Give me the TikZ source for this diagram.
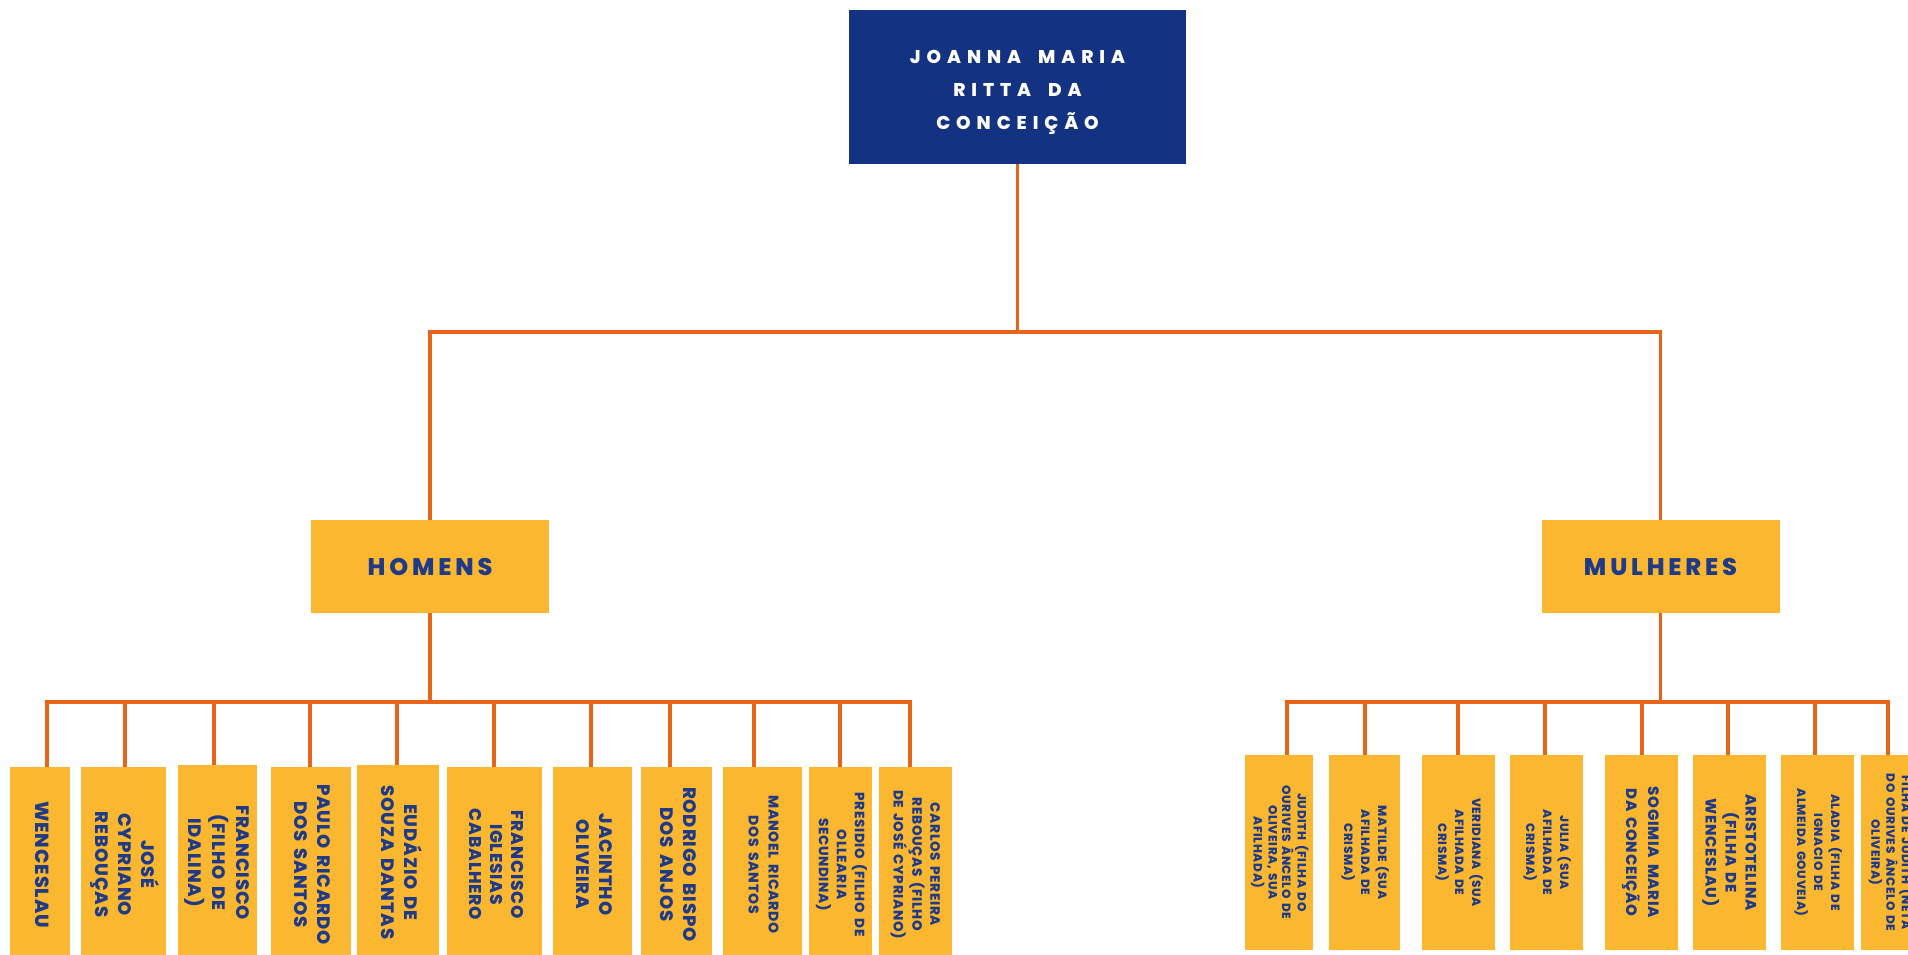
\documentclass[tikz,border=0pt]{standalone}
\usepackage{fontspec}
\usepackage{tikz}
\newfontfamily\titlefont[LetterSpace=32,WordSpace=1.8,BoldFont={Poppins ExtraBold}]{Poppins}
\newfontfamily\groupfont[LetterSpace=16,BoldFont={Poppins ExtraBold}]{Poppins}
\newfontfamily\leaffont[LetterSpace=5,WordSpace=1.6,BoldFont={Poppins ExtraBold}]{Poppins}
\definecolor{rootblue}{HTML}{133282}
\definecolor{boxgold}{HTML}{FCB730}
\definecolor{linkorange}{HTML}{E8641A}
\definecolor{textnavy}{HTML}{1F3A86}
% rotated multi-line label: size, skip, lines
\newcommand{\vtext}[3]{\rotatebox{-90}{\fontsize{#1}{#2}\selectfont\begin{tabular}{@{}c@{}}#3\end{tabular}}}

\begin{document}
\begin{tikzpicture}[x=1pt,y=-1pt,
  link/.style={draw=linkorange,line width=3.8pt},
  rootbox/.style={fill=rootblue,text=white,minimum width=337,minimum height=154,inner sep=0,align=center,font=\titlefont\bfseries\fontsize{18.5}{33}\selectfont},
  groupbox/.style={fill=boxgold,text=textnavy,minimum width=238,minimum height=93,inner sep=0,font=\groupfont\bfseries\fontsize{24}{28}\selectfont},
  leafbox/.style={fill=boxgold,text=textnavy,minimum height=195,inner sep=0,font=\leaffont\bfseries}]
  \useasboundingbox[fill=white] (0,0) rectangle (1908,955);

  \node[rootbox] (root) at (1017.5,87) {};
  \node[text=white,align=center,font=\titlefont\bfseries\fontsize{18.5}{33}\selectfont] (roottext) at (1017.5,92) {JOANNA MARIA\\RITTA DA\\CONCEIÇÃO};
  \node[groupbox] (homens) at (430,566.5) {HOMENS};
  \node[groupbox] (mulheres) at (1660.5,566.5) {MULHERES};
  \coordinate (tb) at (1017.5,332);

  % homens
  \node[leafbox,minimum width=60] (m1) at (40,864.5) {\vtext{19}{24}{WENCESLAU}};
  \node[leafbox,minimum width=85] (m2) at (123.5,864.5) {\vtext{18}{23}{JOSÉ\\CYPRIANO\\REBOUÇAS}};
  \node[leafbox,minimum width=79] (m3) at (217.5,862.5) {\vtext{18}{24}{FRANCISCO\\(FILHO DE\\IDALINA)}};
  \node[leafbox,minimum width=80] (m4) at (311,864.5) {\vtext{18}{23}{PAULO RICARDO\\DOS SANTOS}};
  \node[leafbox,minimum width=82] (m5) at (398,862.5) {\vtext{18}{23}{EUDÁZIO DE\\SOUZA DANTAS}};
  \node[leafbox,minimum width=95] (m6) at (494.5,864.5) {\vtext{17}{21}{FRANCISCO\\IGLESIAS\\CABALHERO}};
  \node[leafbox,minimum width=79] (m7) at (592.5,864.5) {\vtext{18}{23}{JACINTHO\\OLIVEIRA}};
  \node[leafbox,minimum width=71] (m8) at (676.5,864.5) {\vtext{18}{23}{RODRIGO BISPO\\DOS ANJOS}};
  \node[leafbox,minimum width=79] (m9) at (762.5,864.5) {\vtext{14}{20}{MANOEL RICARDO\\DOS SANTOS}};
  \node[leafbox,minimum width=63] (m10) at (840.5,864.5) {\vtext{13.5}{18}{PRESIDIO (FILHO DE\\OLLEARIA\\SECUNDINA)}};
  \node[leafbox,minimum width=73] (m11) at (915.5,864.5) {\vtext{13.5}{18}{CARLOS PEREIRA\\REBOUÇAS (FILHO\\DE JOSÉ CYPRIANO)}};

  % mulheres
  \node[leafbox,minimum width=68] (f1) at (1279,852.5) {\vtext{12}{13.5}{JUDITH (FILHA DO\\OURIVES ÂNCELO DE\\OLIVEIRA, SUA\\AFILHADA)}};
  \node[leafbox,minimum width=71] (f2) at (1364.5,852.5) {\vtext{12}{17}{MATILDE (SUA\\AFILHADA DE\\CRISMA)}};
  \node[leafbox,minimum width=73] (f3) at (1458.5,852.5) {\vtext{12}{17}{VERIDIANA (SUA\\AFILHADA DE\\CRISMA)}};
  \node[leafbox,minimum width=73] (f4) at (1546.5,852.5) {\vtext{12}{17}{JULIA (SUA\\AFILHADA DE\\CRISMA)}};
  \node[leafbox,minimum width=73] (f5) at (1641.5,852.5) {\vtext{15}{22}{SOGIMIA MARIA\\DA CONCEIÇÃO}};
  \node[leafbox,minimum width=73] (f6) at (1729.5,852.5) {\vtext{15}{20}{ARISTOTELINA\\(FILHA DE\\WENCESLAU)}};
  \node[leafbox,minimum width=73] (f7) at (1817.5,852.5) {\vtext{12}{17}{ALADIA (FILHA DE\\IGNACIO DE\\ALMEIDA GOUVEIA)}};
  \node[leafbox,minimum width=58] (f8) at (1890,852.5) {\vtext{12}{13.5}{FILHA DE JUDITH (NETA\\DO OURIVES ÂNCELO DE\\OLIVEIRA)}};

  % connectors
  \draw[link] (root.south) -- (tb);
  \draw[link] (homens.north) -- (homens.north |- tb) -- (mulheres.north |- tb) -- (mulheres.north);
  \draw[link] (homens.south) -- (homens.south |- 0,702);
  \draw[link] (mulheres.south) -- (mulheres.south |- 0,702);
  \draw[link,line cap=rect] (47,702) -- (910,702);
  \draw[link,line cap=rect] (1287,702) -- (1888,702);
  \foreach \n/\cx in {m1/47,m2/125,m3/214,m4/310,m5/397,m6/494,m7/591,m8/670,m9/754,m10/840,m11/910,
                      f1/1287,f2/1365,f3/1458,f4/1545,f5/1642,f6/1728,f7/1815,f8/1888}
    \draw[link] (\cx,702) -- (\cx,702 |- \n.north);
\end{tikzpicture}
\end{document}
